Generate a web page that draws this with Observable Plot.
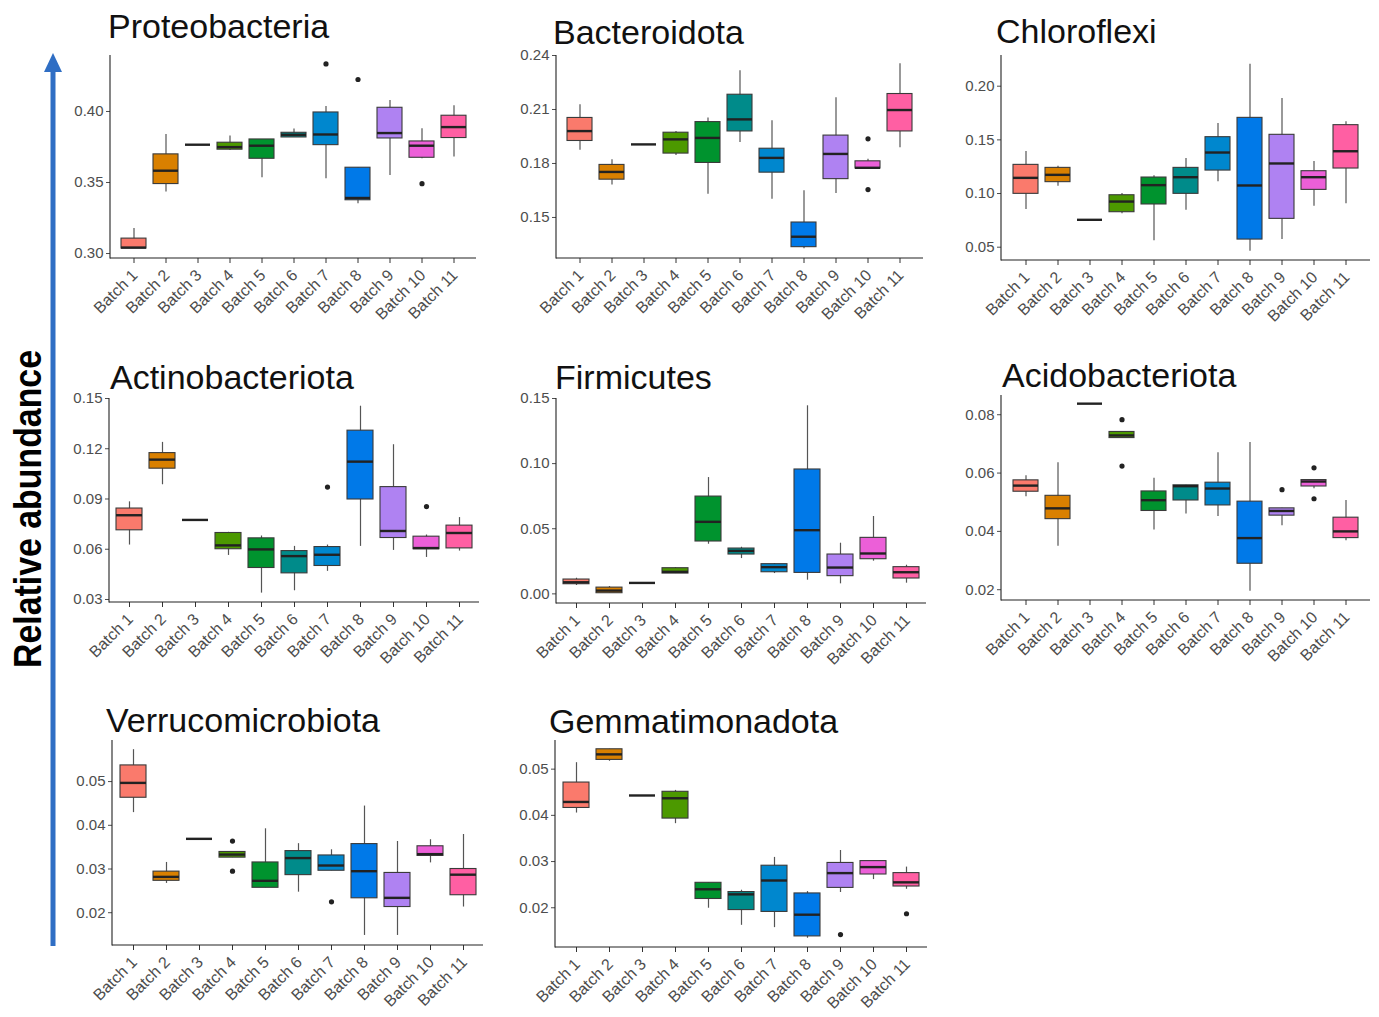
<!DOCTYPE html>
<html>
<head>
<meta charset="utf-8">
<script src="https://cdn.jsdelivr.net/npm/d3@7"></script>
<script src="https://cdn.jsdelivr.net/npm/@observablehq/plot@0.6"></script>
<style>
  html, body { margin: 0; padding: 0; background: #fff; }
  #page { position: relative; width: 1379px; height: 1017px; overflow: hidden; background: #fff; font-family: "Liberation Sans", Arial, sans-serif; }
  .panel { position: absolute; }
  #overlay { position: absolute; left: 0; top: 0; pointer-events: none; }
</style>
</head>
<body>
<div id="page"></div>
<script>
// ---------- data ----------
const batches = ["Batch 1","Batch 2","Batch 3","Batch 4","Batch 5","Batch 6","Batch 7","Batch 8","Batch 9","Batch 10","Batch 11"];

// each row: [lower whisker, Q1, median, Q3, upper whisker]
const proteoStats = [
  [0.3035,0.3035,0.3042,0.3105,0.3176],
  [0.3433,0.3489,0.3583,0.3698,0.3838],
  [0.3766,0.3766,0.3766,0.3766,0.3766],
  [0.3726,0.3731,0.3749,0.3780,0.3827],
  [0.3534,0.3667,0.3759,0.3803,0.3803],
  [0.3817,0.3817,0.3836,0.3850,0.3876],
  [0.3527,0.3763,0.3838,0.3993,0.4035],
  [0.3351,0.3375,0.3391,0.3604,0.3604],
  [0.3550,0.3810,0.3848,0.4026,0.4077],
  [0.3668,0.3674,0.3759,0.3789,0.3878],
  [0.3679,0.3813,0.3890,0.3970,0.4040]
];
const proteoOutliers = [[7,0.4335],[8,0.4225],[10,0.3492]];

const bacteroStats = [
  [0.1873,0.1925,0.1980,0.2053,0.2126],
  [0.1681,0.1710,0.1753,0.1792,0.1821],
  [0.1906,0.1906,0.1906,0.1906,0.1906],
  [0.1845,0.1855,0.1934,0.1971,0.1978],
  [0.1629,0.1803,0.1942,0.2030,0.2053],
  [0.1916,0.1978,0.2045,0.2182,0.2315],
  [0.1601,0.1749,0.1831,0.1882,0.2038],
  [0.1326,0.1335,0.1393,0.1472,0.1648],
  [0.1633,0.1713,0.1853,0.1955,0.2165],
  [0.1772,0.1772,0.1776,0.1812,0.1823],
  [0.1887,0.1978,0.2097,0.2186,0.2354]
];
const bacteroOutliers = [[10,0.1937],[10,0.1655]];

const chloroStats = [
  [0.0851,0.0997,0.1146,0.1267,0.1391],
  [0.1068,0.1106,0.1174,0.1239,0.1255],
  [0.0755,0.0755,0.0755,0.0755,0.0755],
  [0.0811,0.0826,0.0925,0.0984,0.1000],
  [0.0559,0.0898,0.1078,0.1149,0.1165],
  [0.0845,0.0997,0.1152,0.1239,0.1326],
  [0.1109,0.1214,0.1382,0.1525,0.1652],
  [0.0463,0.0571,0.1075,0.1705,0.2205],
  [0.0571,0.0764,0.1280,0.1547,0.1885],
  [0.0882,0.1034,0.1152,0.1208,0.1298],
  [0.0904,0.1233,0.1394,0.1637,0.1668]
];
const chloroOutliers = [];

const actinoStats = [
  [0.0625,0.0713,0.0803,0.0843,0.0883],
  [0.0985,0.1081,0.1135,0.1174,0.1238],
  [0.0775,0.0775,0.0775,0.0775,0.0775],
  [0.0563,0.0600,0.0623,0.0697,0.0701],
  [0.0338,0.0488,0.0599,0.0665,0.0679],
  [0.0352,0.0456,0.0559,0.0589,0.0617],
  [0.0468,0.0500,0.0567,0.0613,0.0625],
  [0.0617,0.0897,0.1123,0.1308,0.1454],
  [0.0593,0.0667,0.0709,0.0971,0.1224],
  [0.0551,0.0600,0.0607,0.0675,0.0685],
  [0.0589,0.0605,0.0697,0.0741,0.0789]
];
const actinoOutliers = [[7,0.0971],[10,0.0855]];

const firmiStats = [
  [0.0064,0.0074,0.0089,0.0110,0.0120],
  [0.0005,0.0005,0.0025,0.0048,0.0056],
  [0.0084,0.0084,0.0084,0.0084,0.0084],
  [0.0156,0.0156,0.0169,0.0197,0.0202],
  [0.0381,0.0402,0.0553,0.0747,0.0893],
  [0.0271,0.0302,0.0330,0.0348,0.0358],
  [0.0156,0.0166,0.0205,0.0228,0.0233],
  [0.0105,0.0161,0.0489,0.0955,0.1444],
  [0.0077,0.0136,0.0202,0.0302,0.0389],
  [0.0251,0.0266,0.0310,0.0430,0.0594],
  [0.0082,0.0118,0.0166,0.0205,0.0220]
];
const firmiOutliers = [];

const acidoStats = [
  [0.0519,0.0536,0.0557,0.0575,0.0591],
  [0.0349,0.0442,0.0479,0.0522,0.0635],
  [0.0838,0.0838,0.0838,0.0838,0.0838],
  [0.0720,0.0720,0.0729,0.0741,0.0741],
  [0.0405,0.0470,0.0507,0.0537,0.0582],
  [0.0460,0.0506,0.0555,0.0558,0.0558],
  [0.0451,0.0489,0.0547,0.0567,0.0670],
  [0.0195,0.0289,0.0377,0.0502,0.0705],
  [0.0419,0.0454,0.0470,0.0479,0.0479],
  [0.0546,0.0554,0.0571,0.0576,0.0576],
  [0.0368,0.0377,0.0400,0.0447,0.0506]
];
const acidoOutliers = [[4,0.0783],[4,0.0624],[9,0.0543],[10,0.0618],[10,0.0512]];

const verruStats = [
  [0.0429,0.0463,0.0497,0.0537,0.0573],
  [0.0267,0.0273,0.0282,0.0294,0.0315],
  [0.0369,0.0369,0.0369,0.0369,0.0369],
  [0.0326,0.0326,0.0333,0.0339,0.0339],
  [0.0257,0.0257,0.0273,0.0315,0.0392],
  [0.0247,0.0286,0.0325,0.0341,0.0358],
  [0.0296,0.0296,0.0308,0.0331,0.0344],
  [0.0148,0.0233,0.0295,0.0357,0.0444],
  [0.0148,0.0213,0.0234,0.0291,0.0363],
  [0.0314,0.0330,0.0334,0.0352,0.0367],
  [0.0213,0.0240,0.0287,0.0300,0.0379]
];
const verruOutliers = [[4,0.0364],[4,0.0295],[7,0.0225]];

const gemmaStats = [
  [0.0405,0.0416,0.0429,0.0471,0.0514],
  [0.0517,0.0520,0.0532,0.0543,0.0543],
  [0.0443,0.0443,0.0443,0.0443,0.0443],
  [0.0382,0.0393,0.0437,0.0451,0.0454],
  [0.0199,0.0219,0.0240,0.0254,0.0254],
  [0.0162,0.0195,0.0229,0.0234,0.0238],
  [0.0157,0.0191,0.0259,0.0291,0.0309],
  [0.0134,0.0138,0.0185,0.0231,0.0235],
  [0.0233,0.0243,0.0275,0.0297,0.0324],
  [0.0261,0.0272,0.0288,0.0301,0.0301],
  [0.0240,0.0246,0.0255,0.0275,0.0288]
];
const gemmaOutliers = [[9,0.0142],[11,0.0187]];

// tick labels
const proteoTicks = [0.30,0.35,0.40];
const bacteroTicks = [0.15,0.18,0.21,0.24];
const chloroTicks = [0.05,0.10,0.15,0.20];
const actinoTicks = [0.03,0.06,0.09,0.12,0.15];
const firmiTicks = [0.00,0.05,0.10,0.15];
const acidoTicks = [0.02,0.04,0.06,0.08];
const verruTicks = [0.02,0.03,0.04,0.05];
const gemmaTicks = [0.02,0.03,0.04,0.05];

const titles = ["Proteobacteria","Bacteroidota","Chloroflexi","Actinobacteriota","Firmicutes","Acidobacteriota","Verrucomicrobiota","Gemmatimonadota"];
const yTitle = "Relative abundance";

// ---------- style / layout ----------
const batchColors = ["#FA7A6C","#D98000","#A3A500","#4C9900","#00932E","#008B8A","#0087CE","#0079E8","#AF82F2","#EC5FD8","#FF5FA3"];

const panels = [
  {title: titles[0], stats: proteoStats, out: proteoOutliers, ticks: proteoTicks, domain: [0.2965,0.4394], x0:110, x1:476, y0:55, y1:258, tx:108, ty:38},
  {title: titles[1], stats: bacteroStats, out: bacteroOutliers, ticks: bacteroTicks, domain: [0.1272,0.2400], x0:556, x1:923, y0:55, y1:258, tx:553, ty:44},
  {title: titles[2], stats: chloroStats, out: chloroOutliers, ticks: chloroTicks, domain: [0.0376,0.2286], x0:1001, x1:1370, y0:55, y1:260, tx:996, ty:43},
  {title: titles[3], stats: actinoStats, out: actinoOutliers, ticks: actinoTicks, domain: [0.0282,0.1500], x0:109, x1:479, y0:398, y1:602, tx:110, ty:389},
  {title: titles[4], stats: firmiStats, out: firmiOutliers, ticks: firmiTicks, domain: [-0.0074,0.1500], x0:556, x1:926, y0:398, y1:603, tx:555, ty:389},
  {title: titles[5], stats: acidoStats, out: acidoOutliers, ticks: acidoTicks, domain: [0.0163,0.0866], x0:1001, x1:1370, y0:395, y1:600, tx:1002, ty:387},
  {title: titles[6], stats: verruStats, out: verruOutliers, ticks: verruTicks, domain: [0.0125,0.0594], x0:112, x1:483, y0:740, y1:945, tx:106, ty:732},
  {title: titles[7], stats: gemmaStats, out: gemmaOutliers, ticks: gemmaTicks, domain: [0.0114,0.0562], x0:555, x1:927, y0:740, y1:947, tx:549, ty:733}
];

const ML = 60, MR = 6, MT = 6, MB = 80;
const page = document.getElementById("page");

function axisLines(dims) {
  const g = d3.create("svg:g");
  g.append("line").attr("x1", dims.marginLeft).attr("x2", dims.marginLeft)
    .attr("y1", dims.marginTop).attr("y2", dims.height - dims.marginBottom + 0.5)
    .attr("stroke", "#222").attr("stroke-width", 1.1);
  g.append("line").attr("x1", dims.marginLeft).attr("x2", dims.width - dims.marginRight)
    .attr("y1", dims.height - dims.marginBottom).attr("y2", dims.height - dims.marginBottom)
    .attr("stroke", "#222").attr("stroke-width", 1.1);
  return g.node();
}

for (const p of panels) {
  const rows = p.stats.map((s, i) => ({batch: batches[i], lo: s[0], q1: s[1], med: s[2], q3: s[3], hi: s[4]}));
  const outs = p.out.map(([b, v]) => ({batch: batches[b - 1], v}));
  const width = p.x1 - p.x0 + ML + MR;
  const height = p.y1 - p.y0 + MT + MB;
  const chart = Plot.plot({
    width, height,
    marginLeft: ML, marginRight: MR, marginTop: MT, marginBottom: MB,
    style: {fontFamily: "'Liberation Sans', Arial, sans-serif", fontSize: "15px", color: "#4d4d4d", background: "transparent", overflow: "visible"},
    x: {domain: batches, paddingInner: 0.22, paddingOuter: 0.21, label: null},
    y: {domain: p.domain, label: null},
    color: {domain: batches, range: batchColors},
    marks: [
      Plot.ruleX(rows, {x: "batch", y1: "lo", y2: "hi", stroke: "#555", strokeWidth: 1.2}),
      Plot.barY(rows.filter(d => d.q3 > d.q1), {x: "batch", y1: "q1", y2: "q3", fill: "batch", stroke: "#3a3a3a", strokeWidth: 1.1}),
      Plot.tickY(rows, {x: "batch", y: "med", stroke: "#222", strokeWidth: 2.4}),
      Plot.dot(outs, {x: "batch", y: "v", r: 2.6, fill: "#222", stroke: null}),
      Plot.axisY({ticks: p.ticks, tickFormat: d3.format(".2f"), tickSize: 4, tickPadding: 3, label: null, fontSize: 15}),
      Plot.axisX({tickSize: 5, tickFormat: () => "", label: null, stroke: "#333"}),
      Plot.axisX({tickRotate: -45, tickSize: 0, tickPadding: 8, dy: 6, dx: 1, label: null, fontSize: 16}),
      (index, scales, values, dims) => axisLines(dims)
    ]
  });
  chart.classList.add("panel");
  chart.style.left = (p.x0 - ML) + "px";
  chart.style.top = (p.y0 - MT) + "px";
  page.appendChild(chart);
}

// overlay: titles, y title and arrow
const ov = d3.select(page).append("svg").attr("id", "overlay").attr("width", 1379).attr("height", 1017);
for (const p of panels) {
  ov.append("text").attr("x", p.tx).attr("y", p.ty)
    .attr("font-family", "'Liberation Sans', Arial, sans-serif").attr("font-size", 34).attr("fill", "#111")
    .text(p.title);
}
ov.append("line").attr("x1", 53).attr("x2", 53).attr("y1", 946).attr("y2", 68)
  .attr("stroke", "#2f6ec4").attr("stroke-width", 5);
ov.append("polygon").attr("points", "53,53 44,72 62,72").attr("fill", "#2f6ec4");
ov.append("text").attr("transform", "translate(41,509) rotate(-90)")
  .attr("text-anchor", "middle").attr("font-family", "'Liberation Sans', Arial, sans-serif")
  .attr("font-weight", "bold").attr("font-size", 38).attr("fill", "#000")
  .attr("textLength", 318).attr("lengthAdjust", "spacingAndGlyphs")
  .text(yTitle);
</script>
</body>
</html>
